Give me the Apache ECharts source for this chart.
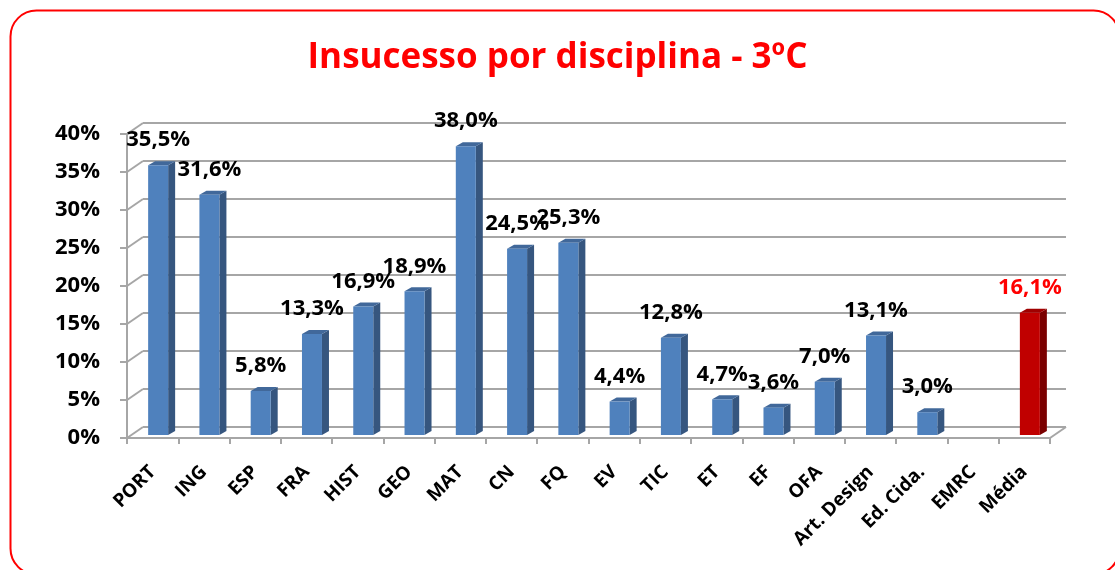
<!DOCTYPE html>
<html>
<head>
    <meta charset="utf-8">
    <title>Insucesso por disciplina - 3ºC</title>
    <script src="https://cdn.jsdelivr.net/npm/echarts@6/dist/echarts.min.js"></script>
    <style>
        html, body { margin: 0; padding: 0; background: #fff; }
        #chart1 { width: 1115px; height: 570px; }
    </style>
</head>
<body>
<!-- 图表容器 -->
<div id="chart1"></div>
<script type="text/javascript">
    // 数据
    var disciplinas = ['PORT', 'ING', 'ESP', 'FRA', 'HIST', 'GEO', 'MAT', 'CN', 'FQ', 'EV', 'TIC', 'ET', 'EF', 'OFA', 'Art. Design', 'Ed. Cida.', 'EMRC', 'Média'];
    var insucesso = [35.5, 31.6, 5.8, 13.3, 16.9, 18.9, 38.0, 24.5, 25.3, 4.4, 12.8, 4.7, 3.6, 7.0, 13.1, 3.0, null, 16.1];
    var yTicks = [0, 5, 10, 15, 20, 25, 30, 35, 40];
    var mediaNome = 'Média';

    var fonte = '"Open Sans", sans-serif';
    var cinza = '#a6a6a6';
    var DX = 16, DY = -11;   // profundidade do "3D"

    var barData = [];
    for (var i = 0; i < disciplinas.length; i++) {
        barData.push([i, insucesso[i]]);
    }

    function renderBar(params, api) {
        var v = api.value(1);
        if (v === null || isNaN(v)) return;
        var idx = api.value(0);
        var top = api.coord([idx, v]);
        var base = api.coord([idx, 0]);
        var cx = top[0];
        var x0 = cx - 4.5, x1 = cx + 15.5;
        var yT = top[1] - 3, yB = base[1] - 3;
        var d = 7, h = -4;
        var media = disciplinas[idx] === mediaNome;
        var cFront = media ? '#c00000' : '#4f81bd';
        var cSide = media ? '#7a0000' : '#36567f';
        var cTop = media ? '#a00000' : '#41689a';
        return {
            type: 'group',
            children: [
                {type: 'polygon', shape: {points: [[x1, yT], [x1 + d, yT + h], [x1 + d, yB + h], [x1, yB]]},
                    style: {fill: cSide}},
                {type: 'polygon', shape: {points: [[x0, yT], [x0 + d, yT + h], [x1 + d, yT + h], [x1, yT]]},
                    style: {fill: cTop}},
                {type: 'rect', shape: {x: x0, y: yT, width: x1 - x0, height: yB - yT},
                    style: {fill: cFront}},
                {type: 'text', x: (x0 + x1) / 2, y: yT - 25,
                    style: {
                        text: v.toFixed(1).replace('.', ',') + '%',
                        fill: media ? '#ff0000' : '#000',
                        font: 'bold 22px ' + fonte,
                        align: 'center', verticalAlign: 'middle'
                    }}
            ]
        };
    }

    function renderWall(params, api) {
        var v = api.value(0);
        var cs = params.coordSys;
        var y = api.coord([0, v])[1];
        var kids = [{type: 'line', shape: {x1: cs.x, y1: y, x2: cs.x + DX, y2: y + DY},
            style: {stroke: cinza, lineWidth: 2}}];
        if (v === 0) {
            kids.push({type: 'line', shape: {x1: cs.x + cs.width, y1: y, x2: cs.x + cs.width + DX, y2: y + DY},
                style: {stroke: cinza, lineWidth: 2}});
        }
        return {type: 'group', children: kids};
    }

    var myChart1 = echarts.init(document.getElementById('chart1'));
    myChart1.setOption({
        animation: false,
        title: {
            text: 'Insucesso por disciplina - 3ºC',
            left: 'center', top: 36,
            textStyle: {color: '#ff0000', fontFamily: fonte, fontWeight: 'bold', fontSize: 35}
        },
        graphic: [{
            type: 'rect', left: 8, top: 8, z: -1,
            shape: {width: 1109, height: 564, r: 26},
            style: {fill: 'none', stroke: '#ff0000', lineWidth: 2}
        }],
        grid: [
            {left: 127, right: 65, top: 134, bottom: 132},
            {left: 127 + DX, right: 65 - DX, top: 134 + DY, bottom: 132 - DY}
        ],
        xAxis: [{
            type: 'category', gridIndex: 0, data: disciplinas,
            axisLine: {lineStyle: {color: cinza, width: 2}},
            axisTick: {show: true, length: 6, lineStyle: {color: cinza, width: 2}},
            axisLabel: {interval: 0, rotate: 45, margin: 31, color: '#000',
                fontFamily: fonte, fontWeight: 'bold', fontSize: 19}
        }, {
            type: 'category', gridIndex: 1, data: disciplinas, show: false
        }],
        yAxis: [{
            type: 'value', gridIndex: 0, min: 0, max: 40, interval: 5,
            axisLine: {show: true, lineStyle: {color: cinza, width: 2}},
            axisTick: {show: true, length: 7, lineStyle: {color: cinza, width: 2}},
            splitLine: {show: false},
            axisLabel: {formatter: '{value}%', margin: 27, color: '#000',
                fontFamily: fonte, fontWeight: 'bold', fontSize: 22}
        }, {
            type: 'value', gridIndex: 1, min: 0, max: 40, interval: 5,
            axisLine: {show: false}, axisTick: {show: false}, axisLabel: {show: false},
            splitLine: {show: true, lineStyle: {color: cinza, width: 2}}
        }],
        series: [{
            type: 'custom', xAxisIndex: 0, yAxisIndex: 0,
            renderItem: renderWall,
            data: yTicks.map(function (t) { return [t]; }),
            encode: {y: 0}, silent: true, z: 1
        }, {
            name: 'Insucesso', type: 'custom', xAxisIndex: 0, yAxisIndex: 0,
            renderItem: renderBar,
            data: barData,
            encode: {x: 0, y: 1}, z: 3
        }]
    });
</script>
</body>
</html>
